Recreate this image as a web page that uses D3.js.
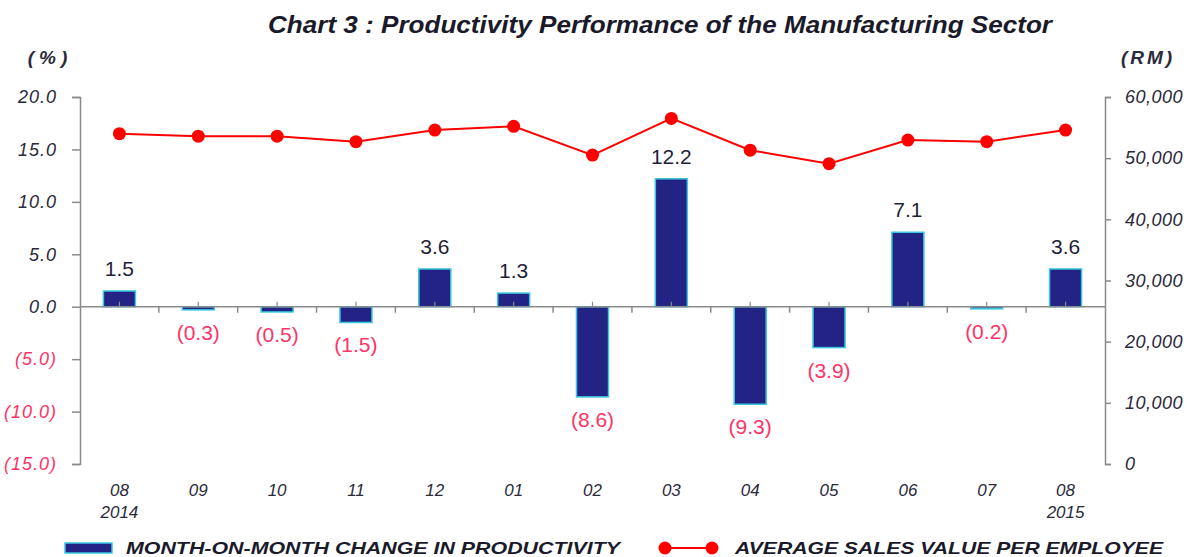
<!DOCTYPE html>
<html>
<head>
<meta charset="utf-8">
<script src="https://cdn.jsdelivr.net/npm/d3@7"></script>
<style>
  html, body { margin: 0; padding: 0; background: #fff; }
  svg { display: block; font-family: "Liberation Sans", Arial, sans-serif; }
</style>
</head>
<body>
<svg id="chart" width="1187" height="557"></svg>
<script>
// === Data ===
const months = ['08', '09', '10', '11', '12', '01', '02', '03', '04', '05', '06', '07', '08b'];
const monthLabels = ['08', '09', '10', '11', '12', '01', '02', '03', '04', '05', '06', '07', '08'];
const yearLabels = ['2014', '', '', '', '', '', '', '', '', '', '', '', '2015'];
const momChange = [1.5, -0.3, -0.5, -1.5, 3.6, 1.3, -8.6, 12.2, -9.3, -3.9, 7.1, -0.2, 3.6];
const salesPerEmployee = [54000, 53600, 53600, 52700, 54600, 55200, 50500, 56500, 51300, 49100, 52950, 52700, 54600];
const leftTicks = [-15, -10, -5, 0, 5, 10, 15, 20];
const rightTicks = [0, 10000, 20000, 30000, 40000, 50000, 60000];

// === Colours ===
const BAR_FILL = '#232386';
const BAR_EDGE = '#38c8e0';
const LINE_RED = '#ff0000';
const NEG_RED = '#ff3366';
const AXIS_GREY = '#8a8a8a';
const TEXT_DARK = '#2a2a3a';

const svg = d3.select('#chart');

// --- Scales ---
const x = d3.scaleBand().domain(months).range([80, 1105]);
const yL = d3.scaleLinear().domain([-15, 20]).range([464, 97]);
const yR = d3.scaleLinear().domain([0, 60000]).range([464, 97]);
const barW = 32;

// --- Title ---
svg.append('text')
  .attr('x', 268).attr('y', 33)
  .attr('textLength', 784).attr('lengthAdjust', 'spacingAndGlyphs')
  .style('font-size', '23px').style('font-weight', 'bold').style('font-style', 'italic')
  .attr('fill', '#1a1a2a')
  .text('Chart 3 : Productivity Performance of the Manufacturing Sector');

// unit labels
svg.append('text').attr('x', 50).attr('y', 64).attr('text-anchor', 'middle')
  .style('font-size', '19px').style('font-weight', 'bold').style('font-style', 'italic')
  .style('letter-spacing', '5px').attr('fill', TEXT_DARK).text('(%)');
svg.append('text').attr('x', 1148).attr('y', 64).attr('text-anchor', 'middle')
  .style('font-size', '19px').style('font-weight', 'bold').style('font-style', 'italic')
  .style('letter-spacing', '3px').attr('fill', TEXT_DARK).text('(RM)');

// --- Left axis ---
const fmtPct = v => v < 0 ? `(${d3.format('.1f')(-v)})` : d3.format('.1f')(v);
const leftAxis = svg.append('g')
  .attr('transform', 'translate(80,0)')
  .call(d3.axisLeft(yL).tickValues(leftTicks).tickFormat(fmtPct).tickSize(8).tickPadding(15));
leftAxis.selectAll('path, line').attr('stroke', AXIS_GREY).attr('stroke-width', 1.5);
leftAxis.selectAll('text')
  .style('font-size', '18px').style('font-style', 'italic').style('letter-spacing', '1px')
  .attr('fill', d => d < 0 ? NEG_RED : TEXT_DARK);

// --- Right axis ---
const rightAxis = svg.append('g')
  .attr('transform', 'translate(1105,0)')
  .call(d3.axisRight(yR).tickValues(rightTicks).tickFormat(d3.format(',')).tickSize(6).tickPadding(14));
rightAxis.selectAll('path, line').attr('stroke', AXIS_GREY).attr('stroke-width', 1.5);
rightAxis.selectAll('text')
  .style('font-size', '18px').style('font-style', 'italic').style('letter-spacing', '0.5px')
  .attr('fill', TEXT_DARK);

// --- Bars ---
svg.append('g').selectAll('rect')
  .data(momChange)
  .join('rect')
  .attr('x', (d, i) => x(months[i]) + x.bandwidth() / 2 - barW / 2)
  .attr('y', d => yL(Math.max(0, d)))
  .attr('width', barW)
  .attr('height', d => Math.abs(yL(d) - yL(0)))
  .attr('fill', BAR_FILL)
  .attr('stroke', BAR_EDGE)
  .attr('stroke-width', 1.5);

// --- Category axis on the zero line ---
const zeroY = yL(0);
const catAxis = svg.append('g');
catAxis.append('line')
  .attr('x1', 80).attr('x2', 1105).attr('y1', zeroY).attr('y2', zeroY)
  .attr('stroke', AXIS_GREY).attr('stroke-width', 1.5);
catAxis.selectAll('line.bound')
  .data(months.slice(1))
  .join('line')
  .attr('class', 'bound')
  .attr('x1', d => x(d)).attr('x2', d => x(d))
  .attr('y1', zeroY).attr('y2', zeroY + 6)
  .attr('stroke', AXIS_GREY).attr('stroke-width', 1.5);
catAxis.selectAll('line.mid')
  .data(months)
  .join('line')
  .attr('class', 'mid')
  .attr('x1', d => x(d) + x.bandwidth() / 2).attr('x2', d => x(d) + x.bandwidth() / 2)
  .attr('y1', zeroY - 5).attr('y2', zeroY)
  .attr('stroke', AXIS_GREY).attr('stroke-width', 1.2);

// --- Month labels under the plot ---
const labG = svg.append('g')
  .style('font-size', '17px').style('font-style', 'italic')
  .attr('fill', TEXT_DARK).attr('text-anchor', 'middle');
labG.selectAll('text.m')
  .data(monthLabels)
  .join('text')
  .attr('class', 'm')
  .attr('x', (d, i) => x(months[i]) + x.bandwidth() / 2)
  .attr('y', 496)
  .text(d => d);
labG.selectAll('text.yr')
  .data(yearLabels)
  .join('text')
  .attr('class', 'yr')
  .attr('x', (d, i) => x(months[i]) + x.bandwidth() / 2)
  .attr('y', 518)
  .text(d => d);

// --- Bar value labels ---
svg.append('g').selectAll('text')
  .data(momChange)
  .join('text')
  .attr('x', (d, i) => x(months[i]) + x.bandwidth() / 2)
  .attr('y', d => d >= 0 ? yL(d) - 15 : yL(d) + 30)
  .attr('text-anchor', 'middle')
  .style('font-size', '21px')
  .attr('fill', d => d >= 0 ? '#1f1f3a' : NEG_RED)
  .text(d => d >= 0 ? d3.format('.1f')(d) : `(${d3.format('.1f')(-d)})`);

// --- Sales line ---
const line = d3.line()
  .x((d, i) => x(months[i]) + x.bandwidth() / 2)
  .y(d => yR(d));
svg.append('path')
  .datum(salesPerEmployee)
  .attr('d', line)
  .attr('fill', 'none')
  .attr('stroke', LINE_RED)
  .attr('stroke-width', 2);
svg.append('g').selectAll('circle')
  .data(salesPerEmployee)
  .join('circle')
  .attr('cx', (d, i) => x(months[i]) + x.bandwidth() / 2)
  .attr('cy', d => yR(d))
  .attr('r', 6.5)
  .attr('fill', LINE_RED);

// --- Legend ---
const legend = svg.append('g')
  .style('font-size', '17px').style('font-weight', 'bold').style('font-style', 'italic')
  .attr('fill', '#1a1a2a');
legend.append('rect')
  .attr('x', 65).attr('y', 543).attr('width', 47).attr('height', 10)
  .attr('fill', BAR_FILL).attr('stroke', BAR_EDGE).attr('stroke-width', 1.5);
legend.append('text')
  .attr('x', 126).attr('y', 554)
  .attr('textLength', 494).attr('lengthAdjust', 'spacingAndGlyphs')
  .text('MONTH-ON-MONTH CHANGE IN PRODUCTIVITY');
legend.append('line')
  .attr('x1', 665).attr('x2', 712).attr('y1', 548).attr('y2', 548)
  .attr('stroke', LINE_RED).attr('stroke-width', 2);
legend.selectAll('circle')
  .data([665, 712])
  .join('circle')
  .attr('cx', d => d).attr('cy', 548).attr('r', 6.5)
  .attr('fill', LINE_RED);
legend.append('text')
  .attr('x', 735).attr('y', 554)
  .attr('textLength', 428).attr('lengthAdjust', 'spacingAndGlyphs')
  .text('AVERAGE SALES VALUE PER EMPLOYEE');
</script>
</body>
</html>
